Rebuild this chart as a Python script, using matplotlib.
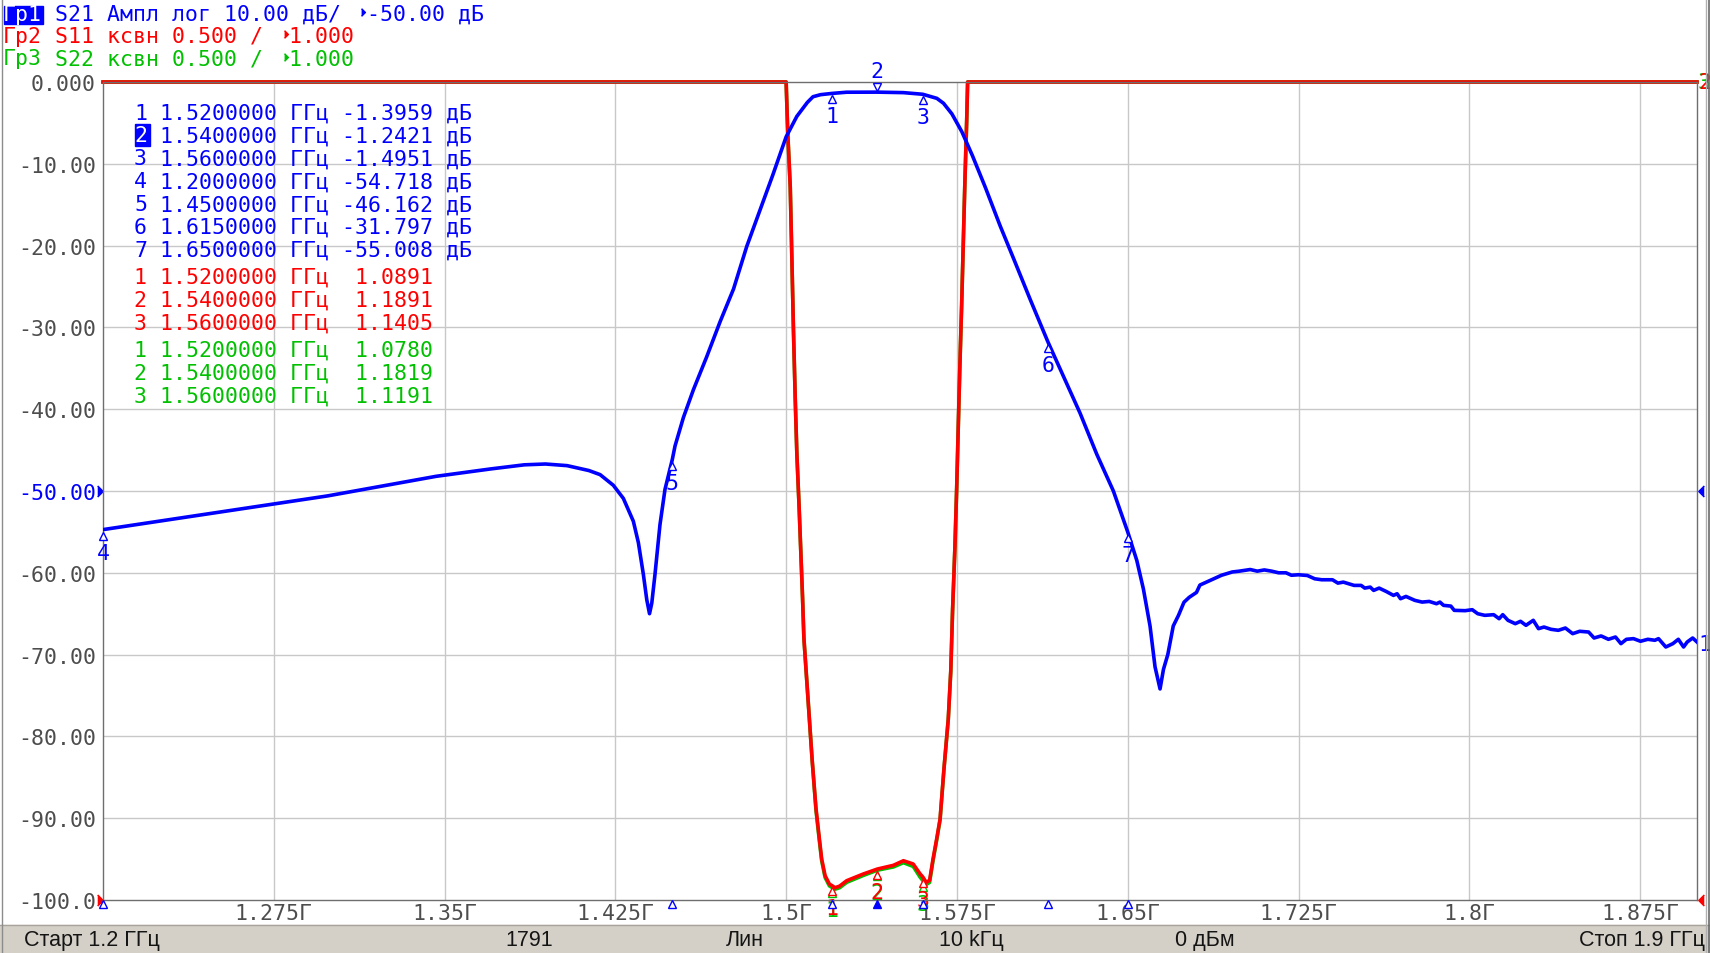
import matplotlib
matplotlib.use("Agg")
import matplotlib.pyplot as plt
from matplotlib.patches import Rectangle
from matplotlib.transforms import offset_copy, blended_transform_factory

W, H, DPI = 1710, 954, 100

BLUE = "#0000ff"
RED = "#ff0000"
GREEN = "#00c000"
GRAY = "#4d4d4d"
GRID = "#c8c8c8"
BAR = "#d4d0c8"
MONO = "DejaVu Sans Mono"
FS = 15.5

# ---- S21, dB ----
s21_f = [1.2000, 1.2268, 1.2507, 1.2746, 1.2986, 1.3225, 1.3464, 1.3703, 1.3850, 1.3943,
         1.4038, 1.4134, 1.4183, 1.4241, 1.4285, 1.4329, 1.4351, 1.4373, 1.4388, 1.4400,
         1.4410, 1.4424, 1.4446, 1.4468, 1.4500, 1.4512, 1.4549, 1.4593, 1.4651, 1.4710,
         1.4769, 1.4827, 1.4886, 1.4941, 1.5000, 1.5047, 1.5093, 1.5118, 1.5151, 1.5200,
         1.5265, 1.5400, 1.5515, 1.5600, 1.5662, 1.5691, 1.5728, 1.5772, 1.5818, 1.5875,
         1.5940, 1.5999, 1.6072, 1.6150, 1.6218, 1.6291, 1.6364, 1.6437, 1.6500, 1.6540,
         1.6569, 1.6598, 1.6620, 1.6642, 1.6657, 1.6676, 1.6700, 1.6723, 1.6747, 1.6770,
         1.6802, 1.6817, 1.6849, 1.6880, 1.6912, 1.6959, 1.6990, 1.7038, 1.7069, 1.7100,
         1.7132, 1.7163, 1.7195, 1.7219, 1.7250, 1.7289, 1.7321, 1.7352, 1.7399, 1.7423,
         1.7447, 1.7470, 1.7494, 1.7525, 1.7541, 1.7565, 1.7580, 1.7604, 1.7635, 1.7667,
         1.7683, 1.7698, 1.7722, 1.7761, 1.7793, 1.7824, 1.7856, 1.7871, 1.7887, 1.7919,
         1.7934, 1.7982, 1.8013, 1.8037, 1.8068, 1.8107, 1.8131, 1.8147, 1.8170, 1.8202,
         1.8225, 1.8249, 1.8281, 1.8304, 1.8328, 1.8359, 1.8391, 1.8422, 1.8454, 1.8485,
         1.8524, 1.8548, 1.8579, 1.8611, 1.8642, 1.8666, 1.8690, 1.8721, 1.8752, 1.8784,
         1.8815, 1.8831, 1.8863, 1.8894, 1.8918, 1.8941, 1.8957, 1.8981, 1.9000]
s21_db = [-54.72, -53.6, -52.6, -51.6, -50.6, -49.4, -48.2, -47.3, -46.8, -46.7,
          -46.9, -47.5, -48.0, -49.3, -50.9, -53.7, -56.3, -60.2, -63.3, -65.0,
          -63.7, -60.2, -54.1, -49.8, -46.16, -44.5, -41.0, -37.6, -33.6, -29.3,
          -25.3, -20.1, -15.6, -11.4, -6.7, -4.2, -2.5, -1.8, -1.55, -1.40,
          -1.25, -1.24, -1.30, -1.50, -2.0, -2.6, -3.9, -6.1, -9.0, -12.9,
          -17.6, -21.6, -26.6, -31.8, -36.0, -40.5, -45.5, -50.0, -55.0, -58.5,
          -62.0, -66.5, -71.5, -74.2, -71.8, -70.0, -66.5, -65.2, -63.6, -63.0,
          -62.4, -61.5, -61.1, -60.7, -60.3, -59.9, -59.8, -59.6, -59.8, -59.65,
          -59.8, -60.0, -60.0, -60.3, -60.24, -60.33, -60.73, -60.85, -60.85, -61.26,
          -61.14, -61.34, -61.54, -61.54, -61.87, -61.75, -62.15, -61.87, -62.28, -62.76,
          -62.56, -63.17, -62.89, -63.37, -63.58, -63.50, -63.78, -63.58, -63.98, -64.07,
          -64.59, -64.63, -64.51, -65.00, -65.20, -65.12, -65.61, -65.12, -65.81, -66.22,
          -65.93, -66.42, -65.81, -66.83, -66.63, -66.91, -67.03, -66.75, -67.44, -67.15,
          -67.24, -67.97, -67.72, -68.13, -67.85, -68.66, -68.13, -68.05, -68.37, -68.13,
          -68.25, -68.05, -69.07, -68.66, -68.13, -69.07, -68.46, -67.97, -68.46]

# ---- S11 / S22, VSWR (top of scale = 6.0) ----
swr_f = [1.2000, 1.5000, 1.5007, 1.5018, 1.5025, 1.5032, 1.5040, 1.5047, 1.5057, 1.5066,
         1.5072, 1.5078, 1.5096, 1.5114, 1.5131, 1.5146, 1.5156, 1.5171, 1.5190, 1.5200,
         1.5215, 1.5235, 1.5266, 1.5339, 1.5400, 1.5471, 1.5515, 1.5558, 1.5588, 1.5600,
         1.5615, 1.5630, 1.5645, 1.5661, 1.5676, 1.5693, 1.5712, 1.5723, 1.5731, 1.5741,
         1.5749, 1.5756, 1.5763, 1.5771, 1.5778, 1.5785, 1.5793, 1.5797, 1.9000]
s11_swr = [6.0, 6.0, 5.69, 5.36, 4.93, 4.49, 4.06, 3.73, 3.40, 3.07,
           2.85, 2.60, 2.23, 1.86, 1.56, 1.373, 1.251, 1.149, 1.097, 1.089,
           1.075, 1.085, 1.118, 1.159, 1.189, 1.212, 1.240, 1.220, 1.160, 1.141,
           1.108, 1.120, 1.250, 1.373, 1.495, 1.80, 2.106, 2.40, 2.775, 3.149,
           3.52, 3.90, 4.27, 4.65, 5.02, 5.39, 5.77, 6.0, 6.0]
s22_swr = [6.0, 6.0, 5.69, 5.36, 4.93, 4.49, 4.06, 3.73, 3.40, 3.07,
           2.85, 2.60, 2.23, 1.86, 1.55, 1.36, 1.24, 1.138, 1.086, 1.078,
           1.066, 1.075, 1.108, 1.150, 1.182, 1.202, 1.228, 1.205, 1.140, 1.119,
           1.094, 1.108, 1.240, 1.365, 1.49, 1.80, 2.106, 2.40, 2.775, 3.149,
           3.52, 3.90, 4.27, 4.65, 5.02, 5.39, 5.77, 6.0, 6.0]

# ---- markers ----
mk_f = [1.52, 1.54, 1.56, 1.20, 1.45, 1.615, 1.65]
mk_s21 = [-1.3959, -1.2421, -1.4951, -54.718, -46.162, -31.797, -55.008]
mk_s11 = [1.0891, 1.1891, 1.1405]
mk_s22 = [1.0780, 1.1819, 1.1191]
active_mk = 2

x_ticks = [1.275, 1.35, 1.425, 1.5, 1.575, 1.65, 1.725, 1.8, 1.875]
x_labels = ["1.275Г", "1.35Г", "1.425Г", "1.5Г", "1.575Г", "1.65Г", "1.725Г", "1.8Г", "1.875Г"]
y_ticks = [0, -10, -20, -30, -40, -50, -60, -70, -80, -90, -100]
y_labels = ["0.000", "-10.00", "-20.00", "-30.00", "-40.00", "-50.00",
            "-60.00", "-70.00", "-80.00", "-90.00", "-100.0"]
f_start, f_stop = 1.2, 1.9
db_bot, db_top = -100, 0
swr_bot, swr_top = 1.0, 6.0
ref_db = -50
ref_swr = 1.0

header = [("Гр1", "S21 Ампл лог 10.00 дБ/", "-50.00 дБ", BLUE),
          ("Гр2", "S11 ксвн 0.500 /", "1.000", RED),
          ("Гр3", "S22 ксвн 0.500 /", "1.000", GREEN)]
status = [("Старт 1.2 ГГц", 24, "left"), ("1791", 529, "center"), ("Лин", 745, "center"),
          ("10 kГц", 971, "center"), ("0 дБм", 1205, "center"), ("Стоп 1.9 ГГц", 1705, "right")]

plt.rcParams["font.family"] = [MONO, "DejaVu Sans"]

fig = plt.figure(figsize=(W / DPI, H / DPI), dpi=DPI, facecolor="white")
ax = fig.add_axes([103 / W, (H - 901) / H, 1594 / W, 818 / H])
axv = ax.twinx()
ax.set_zorder(axv.get_zorder() + 1)
ax.patch.set_visible(False)
ax.set_xlim(f_start, f_stop)
ax.set_ylim(db_bot, db_top)
axv.set_ylim(swr_bot, swr_top)


def dots(tr, dx=0, dy=0):
    return offset_copy(tr, fig=fig, x=dx, y=dy, units="dots")


# grid lives on the lower axes so traces sit over it
ydb = blended_transform_factory(axv.transAxes, ax.transData)
for y in y_ticks[1:-1]:
    axv.plot([0, 1], [y, y], transform=ydb, color=GRID, lw=1, zorder=0)
for x in x_ticks:
    axv.axvline(x, color=GRID, lw=1, zorder=0)

for s in axv.spines.values():
    s.set_visible(False)
axv.set_yticks([])
for s in ax.spines.values():
    s.set_color("#6e6e6e")
    s.set_linewidth(1)

ax.set_xticks(x_ticks, x_labels)
ax.set_yticks(y_ticks, y_labels)
ax.tick_params(length=0, labelsize=FS, labelcolor=GRAY)
ax.tick_params(axis="y", pad=5)
ax.tick_params(axis="x", pad=2)
ax.get_yticklabels()[y_ticks.index(ref_db)].set_color(BLUE)

# traces
axv.plot(swr_f, s22_swr, color=GREEN, lw=2.6, clip_on=False, zorder=2)
axv.plot(swr_f, s11_swr, color=RED, lw=2.6, clip_on=False, zorder=3)
ax.plot(s21_f, s21_db, color=BLUE, lw=2.6, zorder=4, solid_joinstyle="round")

# S21 markers
bot = blended_transform_factory(ax.transData, ax.transAxes)
for n, (f, v) in enumerate(zip(mk_f, mk_s21), 1):
    if n == active_mk:
        ax.plot(f, v, marker="v", ms=5.5, mfc="white", mec=BLUE, mew=1,
                transform=dots(ax.transData, 0, 5), clip_on=False, zorder=6)
        ax.text(f, v, str(n), transform=dots(ax.transData, 0, 15), ha="center",
                va="baseline", color=BLUE, fontsize=FS, zorder=6)
    else:
        ax.plot(f, v, marker="^", ms=5.5, mfc="white", mec=BLUE, mew=1,
                transform=dots(ax.transData, 0, -6), clip_on=False, zorder=6)
        ax.text(f, v, str(n), transform=dots(ax.transData, 0, -29), ha="center",
                va="baseline", color=BLUE, fontsize=FS, zorder=6, clip_on=False)
    ax.plot(f, 0, marker="^", ms=6, mfc=BLUE if n == active_mk else "white", mec=BLUE,
            mew=1, transform=dots(bot, 0, -4), clip_on=False, zorder=6)

# S22 then S11 markers
for vals, col in ((mk_s22, GREEN), (mk_s11, RED)):
    for n, (f, v) in enumerate(zip(mk_f, vals), 1):
        axv.plot(f, v, marker="^", ms=5.5, mfc="white", mec=col, mew=1,
                 transform=dots(axv.transData, 0, -6), clip_on=False, zorder=5)
        axv.text(f, v, str(n), transform=dots(axv.transData, 0, -29), ha="center",
                 va="baseline", color=col, fontsize=FS, clip_on=False, zorder=5)

# reference level arrows and trace numbers at the edges
tri_r = [(-0.5, -1), (0.5, 0), (-0.5, 1)]
tri_l = [(0.5, -1), (-0.5, 0), (0.5, 1)]
edge_db = blended_transform_factory(ax.transAxes, ax.transData)
edge_swr = blended_transform_factory(axv.transAxes, axv.transData)
ax.plot(0, ref_db, marker=tri_r, ms=8, color=BLUE, transform=dots(edge_db, -3.5), clip_on=False)
ax.plot(1, ref_db, marker=tri_l, ms=8, color=BLUE, transform=dots(edge_db, 3.5), clip_on=False)
axv.plot(0, ref_swr, marker=tri_r, ms=8, color=RED, transform=dots(edge_swr, -3.5), clip_on=False)
axv.plot(1, ref_swr, marker=tri_l, ms=8, color=RED, transform=dots(edge_swr, 3.5), clip_on=False)
ax.text(1, s21_db[-1], "1", transform=dots(edge_db, 1, -7.8), ha="left", va="baseline",
        color=BLUE, fontsize=FS)
axv.text(1, s22_swr[-1], "3", transform=dots(edge_swr, 1, -5.8), ha="left", va="baseline",
         color=GREEN, fontsize=FS)
axv.text(1, s11_swr[-1], "2", transform=dots(edge_swr, 1, -5.8), ha="left", va="baseline",
         color=RED, fontsize=FS)

# ---- overlay in screen pixels: header, marker table, status bar ----
ov = fig.add_axes([0, 0, 1, 1])
ov.set_xlim(0, W)
ov.set_ylim(H, 0)
ov.axis("off")
ov.patch.set_visible(False)
ov.set_zorder(10)

cw = 0.6021 * FS * DPI / 72
x0 = 3
for i, (tag, mid, ref, col) in enumerate(header):
    yb = 20.7 + i * 22.2
    head = f"{tag} {mid} "
    ov.text(x0 + (len(tag) + 1) * cw, yb, f"{mid}  {ref}", color=col, fontsize=FS,
            va="baseline", ha="left")
    xt = x0 + (len(head) + 0.8) * cw
    ov.plot(xt, yb - 7.5, marker=tri_r, ms=5.5, color=col)
    if i == 0:
        ov.add_patch(Rectangle((x0 + 0.5, yb - 14.2), 3 * cw + 1, 18.5, color=BLUE, zorder=2))
        ov.text(x0, yb, tag, color="white", fontsize=FS, va="baseline", ha="left", zorder=3)
    else:
        ov.text(x0, yb, tag, color=col, fontsize=FS, va="baseline", ha="left")

tx = 134
yb = 119.5
for n, (f, v) in enumerate(zip(mk_f, mk_s21), 1):
    val = f"{v:.4f}" if abs(v) < 10 else f"{v:.3f}"
    ov.text(tx + 2 * cw, yb, f"{f:.7f} ГГц {val} дБ", color=BLUE, fontsize=FS, va="baseline")
    if n == active_mk:
        ov.add_patch(Rectangle((tx + 1, yb - 17), cw + 2, 22, color=BLUE, zorder=2))
        ov.text(tx, yb, str(n), color="white", fontsize=FS, va="baseline", zorder=3)
    else:
        ov.text(tx, yb, str(n), color=BLUE, fontsize=FS, va="baseline")
    yb += 22.9
yb += 4
for vals, col in ((mk_s11, RED), (mk_s22, GREEN)):
    for n, (f, v) in enumerate(zip(mk_f, vals), 1):
        ov.text(tx, yb, f"{n} {f:.7f} ГГц  {v:.4f}", color=col, fontsize=FS, va="baseline")
        yb += 22.9
    yb += 4

ov.add_patch(Rectangle((0, 926), W, 28, color=BAR, zorder=1))
ov.plot([0, W], [925.5, 925.5], color="#a8a49c", lw=1)
for txt, x, ha in status:
    ov.text(x, 946.5, txt, ha=ha, va="baseline", fontsize=FS,
            family="Liberation Sans", color="#141414")

ov.plot([2, 2], [0, H], color="#8c8c8c", lw=1)
ov.plot([1706, 1706], [0, H], color="#b0b0b0", lw=1)
ov.plot([1708.5, 1708.5], [0, H], color="#6a6a6a", lw=1.2)

fig.savefig("out.png", dpi=DPI, facecolor="white")
